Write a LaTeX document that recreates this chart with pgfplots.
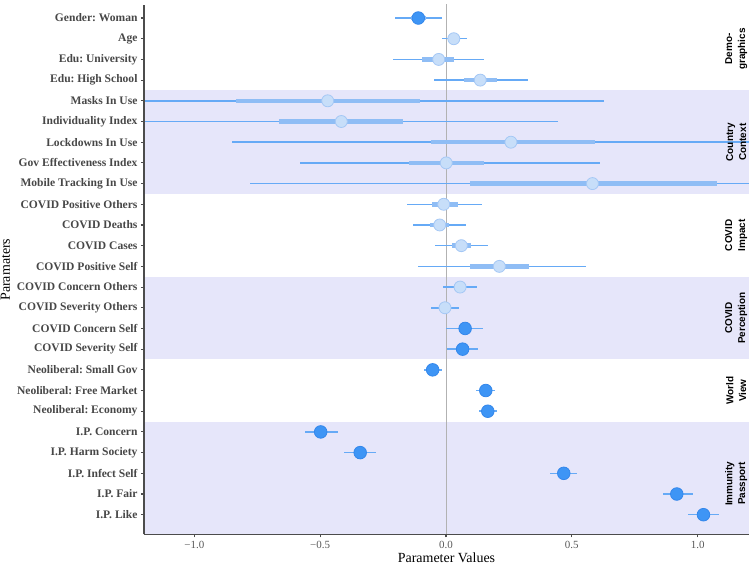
\documentclass[border=0pt]{standalone}
\usepackage{fontspec}
\setmainfont{Liberation Serif}
\newfontfamily\helv{Liberation Sans}
\usepackage{pgfplots}
\usepackage{pgfplotstable}
\pgfplotsset{compat=1.18}
\frenchspacing

\definecolor{band}{RGB}{230,230,250}
\definecolor{thinblue}{RGB}{102,170,246}
\definecolor{thickblue}{RGB}{143,189,245}
\definecolor{darkpt}{RGB}{62,149,245}
\definecolor{darkedge}{RGB}{52,135,235}
\definecolor{lightpt}{RGB}{199,222,249}
\definecolor{lightedge}{RGB}{165,200,245}

% y: 1 = bottom row; lo/hi = outer interval, lo2/hi2 = inner interval
\pgfplotstableread{
y  est     lo      hi      lo2     hi2     sig
25 -0.110  -0.203  -0.017  -0.140  -0.078  s
24  0.031  -0.017   0.082   0.010   0.052  n
23 -0.029  -0.212   0.152  -0.094   0.033  n
22  0.136  -0.046   0.325   0.073   0.203  n
21 -0.470  -1.567   0.627  -0.835  -0.105  n
20 -0.416  -1.278   0.446  -0.664  -0.171  n
19  0.258  -0.851   1.367  -0.061   0.592  n
18  0.001  -0.579   0.611  -0.147   0.152  n
17  0.582  -0.779   1.940   0.094   1.077  n
16 -0.009  -0.156   0.144  -0.057   0.046  n
15 -0.025  -0.133   0.078  -0.064   0.012  n
14  0.061  -0.042   0.168   0.025   0.099  n
13  0.212  -0.110   0.555   0.097   0.329  n
12  0.056  -0.011   0.123   0.034   0.078  n
11 -0.004  -0.058   0.053  -0.024   0.016  n
10  0.076   0.001   0.147   0.052   0.100  s
9   0.066   0.005   0.126   0.046   0.086  s
8  -0.053  -0.087  -0.016  -0.065  -0.041  s
7   0.158   0.118   0.196   0.145   0.171  s
6   0.166   0.132   0.201   0.154   0.178  s
5  -0.498  -0.562  -0.431  -0.520  -0.476  s
4  -0.341  -0.404  -0.278  -0.362  -0.320  s
3   0.468   0.415   0.522   0.450   0.486  s
2   0.917   0.861   0.981   0.897   0.937  s
1   1.023   0.963   1.084   1.003   1.043  s
}\params

\begin{document}
\begin{tikzpicture}
\begin{axis}[
  scale only axis,
  width=605bp, height=529.3bp,
  xmin=-1.2, xmax=1.204,
  ymin=0.053, ymax=25.63,
  axis on top,
  axis x line*=bottom, axis y line*=left,
  axis line style={draw=black!70, line width=1.2bp},
  xtick={-1,-0.5,0,0.5,1},
  xticklabels={−1.0,−0.5,0.0,0.5,1.0},
  ytick={1,...,25},
  yticklabels={I.P. Like, I.P. Fair, I.P. Infect Self, I.P. Harm Society, I.P. Concern,
    Neoliberal: Economy, Neoliberal: Free Market, Neoliberal: Small Gov,
    COVID Severity Self, COVID Concern Self, COVID Severity Others, COVID Concern Others,
    COVID Positive Self, COVID Cases, COVID Deaths, COVID Positive Others,
    Mobile Tracking In Use, Gov Effectiveness Index, Lockdowns In Use, Individuality Index, Masks In Use,
    Edu: High School, Edu: University, Age, Gender: Woman},
  tick align=outside,
  major tick length=3bp,
  tick style={draw=black!70, line width=1.1bp},
  xticklabel style={font=\fontsize{11}{13}\selectfont, text=black!65},
  yticklabel style={font=\fontsize{11.6}{13}\selectfont\bfseries, text=black!72},
  xlabel={Parameter Values},
  ylabel={Paramaters},
  xlabel style={font=\fontsize{14}{16}\selectfont, at={(axis description cs:0.5,-0.053)}, anchor=base, inner sep=0pt},
  ylabel style={font=\fontsize{14}{16}\selectfont, at={(axis description cs:-0.2215,0.5)}, anchor=base, inner sep=0pt},
]
% group bands
\addplot[fill=band, draw=none] coordinates {(-1.3,16.5) (1.3,16.5) (1.3,21.5) (-1.3,21.5)} -- cycle;
\addplot[fill=band, draw=none] coordinates {(-1.3,8.5) (1.3,8.5) (1.3,12.5) (-1.3,12.5)} -- cycle;
\addplot[fill=band, draw=none] coordinates {(-1.3,-1) (1.3,-1) (1.3,5.5) (-1.3,5.5)} -- cycle;
% zero line
\addplot[draw=black!30, line width=1bp] coordinates {(0,-1) (0,27)};
% outer intervals
\addplot[draw=none, mark=none, error bars/.cd, x dir=both, x explicit, error mark=none,
  error bar style={line width=1.5bp, draw=thinblue}]
  table[x=est, y=y, x error plus expr=\thisrow{hi}-\thisrow{est}, x error minus expr=\thisrow{est}-\thisrow{lo}] {\params};
% inner intervals
\addplot[draw=none, mark=none, error bars/.cd, x dir=both, x explicit, error mark=none,
  error bar style={line width=4.5bp, draw=thickblue}]
  table[x=est, y=y, x error plus expr=\thisrow{hi2}-\thisrow{est}, x error minus expr=\thisrow{est}-\thisrow{lo2}] {\params};
% estimates
\addplot[scatter, only marks, scatter src=explicit symbolic,
  scatter/classes={
    n={mark=*, mark size=6bp, draw=lightedge, fill=lightpt, line width=0.8bp},
    s={mark=*, mark size=6.3bp, draw=darkedge, fill=darkpt, line width=0.8bp}}]
  table[x=est, y=y, meta=sig] {\params};
% group labels
\tikzset{grp/.style={font=\helv\bfseries\fontsize{10}{13}\selectfont, align=center, rotate=90, text=black}}
\node[grp] at (axis cs:1.153,23.5) {Demo-\\graphics};
\node[grp] at (axis cs:1.153,19) {Country\\Context};
\node[grp] at (axis cs:1.153,14.5) {COVID\\Impact};
\node[grp] at (axis cs:1.153,10.5) {COVID\\Perception};
\node[grp] at (axis cs:1.153,7) {World\\View};
\node[grp] at (axis cs:1.153,2.5) {Immunity\\Passport};
\end{axis}
\pgfresetboundingbox
\path[use as bounding box] ([xshift=-144bp,yshift=-30.7bp]current axis.south west) rectangle ([yshift=5bp]current axis.north east);
\end{tikzpicture}
\end{document}
